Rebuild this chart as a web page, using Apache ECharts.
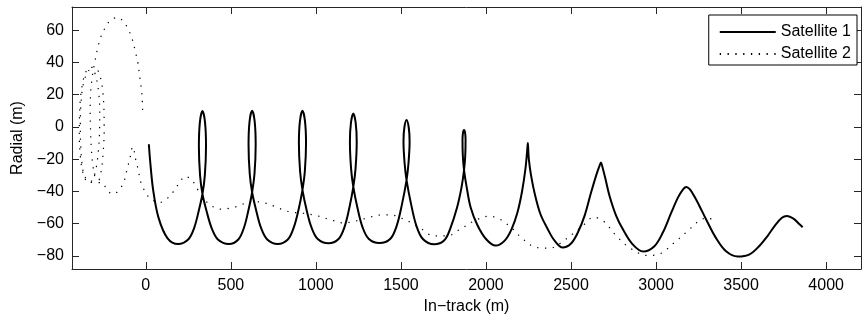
<!DOCTYPE html>
<html>
<head>
<meta charset="utf-8">
<script src="https://cdn.jsdelivr.net/npm/echarts@6/dist/echarts.min.js"></script>
<style>
html,body{margin:0;padding:0;background:#fff;}
#chart{width:865px;height:322px;}
</style>
</head>
<body>
<div id="chart"></div>
<script>
// ---- data ----
const seriesNames = ['Satellite 1', 'Satellite 2'];
const xTicks = [0, 500, 1000, 1500, 2000, 2500, 3000, 3500, 4000];
const yTicks = [-80, -60, -40, -20, 0, 20, 40, 60];

const sat1X = [18,25,43,75,128,190,249,284,311,333,347,354,348,333,318,312,319,333,357,387,424,488,544,577,603,625,639,646,640,625,610,604,611,625,649,677,714,775,835,870,898,921,935,942,936,921,906,900,907,921,945,974,1011,1073,1133,1169,1197,1220,1233,1240,1234,1220,1206,1200,1207,1220,1244,1273,1310,1373,1438,1476,1506,1533,1544,1551,1546,1533,1520,1515,1522,1533,1560,1590,1629,1696,1755,1790,1830,1857,1871,1878,1880,1877,1871,1865,1862,1864,1871,1886,1910,1950,2000,2057,2110,2150,2185,2212,2232,2242,2246,2248,2252,2265,2288,2320,2359,2400,2451,2500,2540,2580,2617,2648,2668,2676,2684,2702,2727,2765,2805,2860,2925,2990,3040,3090,3130,3160,3178,3198,3225,3255,3296,3350,3410,3480,3550,3610,3653,3700,3740,3769,3810,3840,3862];
const sat1Y = [-10.7,-20.5,-39,-56.4,-69.1,-72.6,-69.8,-62.7,-52.1,-41.6,-30,-12,3,9.9,3,-12,-30,-41.6,-52.1,-62.7,-69.8,-72.6,-69.8,-62.5,-51.8,-40.5,-29,-11,3.5,10,3.5,-11,-29,-40.5,-51.8,-62.5,-69.8,-72.6,-69.8,-62.3,-51.3,-39,-27.5,-10,3.5,10,3.5,-10,-27.5,-39,-51.3,-62.3,-69.5,-72.2,-69.5,-61.8,-50,-37.2,-26,-9,2.5,8.3,2.5,-9,-26,-37.2,-50,-61.8,-69.3,-72,-69.3,-61,-48,-33,-23,-9,-0.5,4.3,-0.5,-9,-23,-33,-48,-61,-69.5,-72.8,-70.3,-63,-50,-37,-26.7,-18,-8,-3.5,-1.9,-3.5,-8,-18,-26.7,-37,-50,-61,-69.5,-73.6,-70.5,-63.5,-53,-40,-26,-15,-10,-13,-20,-30,-42,-54,-62.5,-70,-74.8,-72.3,-65.5,-55,-41,-30,-24,-22.1,-24.5,-32,-43,-55,-63.5,-72.5,-77.3,-74,-65.5,-53,-43.5,-38.5,-37.2,-38.6,-43,-49,-57.7,-68.5,-77,-80.4,-79,-73.5,-68,-61,-56.3,-55.2,-57,-60,-62.2];

const sat2X = [-19,-22,-28,-36,-47,-60,-80,-102,-128,-165,-206,-235,-260,-281,-300,-315,-324,-327,-325,-320,-310,-295,-278,-262,-250,-245,-246,-252,-265,-285,-310,-335,-355,-372,-384,-390,-391,-386,-375,-358,-338,-315,-295,-280,-272,-271,-278,-292,-312,-336,-356,-372,-382,-385,-383,-376,-365,-349,-330,-310,-285,-260,-234,-210,-191,-170,-150,-130,-112,-97,-86,-78,-70,-60,-46,-30,-10,19,45,80,127,162,202,231,270,304,340,388,437,492,545,594,633,692,761,809,859,908,1004,1104,1162,1221,1300,1378,1437,1504,1565,1614,1692,1771,1849,1927,2015,2074,2153,2212,2290,2378,2437,2515,2574,2633,2692,2770,2849,2946,3025,3103,3182,3260,3309,3350];
const sat2Y = [10.5,19,25,31,40,46,54.5,60.2,64.9,67.9,66.4,62.2,57,49.8,40.1,31,22,10,-2,-14,-25,-32,-33,-27,-15,-2,10,21,30,35.5,37,36.5,33.5,27,18,6,-6,-17,-26,-32,-34.5,-33,-27,-16,-3,10,22,30.5,35,35,31,24,13,1,-11,-22,-29,-32.5,-34,-34.5,-34.5,-34.5,-37.8,-41,-41.7,-40.5,-38,-34.5,-27,-21,-16,-12.2,-14,-20,-26,-34,-39,-43.8,-45.7,-46.9,-44.2,-40.1,-33.9,-30.6,-32.9,-38.6,-44.5,-49,-51,-50.4,-49,-46.9,-46.3,-46.9,-49.4,-51.5,-52.9,-53.3,-55,-58.1,-59.5,-58.7,-56.5,-54.6,-54.5,-56.6,-59.7,-62.8,-67.6,-67.6,-63.4,-58.5,-55.4,-56.8,-62.8,-69,-74.6,-75.2,-72.1,-65.9,-60.8,-56,-58.5,-68,-75.2,-79.7,-78.6,-72.1,-64.9,-57.7,-56.4,-60.2];

const sat1 = sat1X.map((x, i) => [x, sat1Y[i]]);
const sat2 = sat2X.map((x, i) => [x, sat2Y[i]]);

const X_MIN = -434, X_MAX = 4205, Y_MIN = -88.1, Y_MAX = 74.4;
const FONT = 'Liberation Sans, Arial, Helvetica, sans-serif';
const minus = v => String(v).replace('-', '\u2212');

const chart = echarts.init(document.getElementById('chart'), null, {renderer: 'canvas'});
const axLine = {show: true, onZero: false, lineStyle: {color: '#262626', width: 1}};
const tickStyle = {lineStyle: {color: '#262626', width: 1}};

chart.setOption({
  animation: false,
  backgroundColor: '#fff',
  grid: {left: 72, right: 4, top: 7, bottom: 53, containLabel: false},
  legend: {
    data: seriesNames,
    orient: 'vertical',
    right: 8, top: 15,
    padding: [9, 6, 3, 10],
    itemWidth: 56, itemHeight: 14, itemGap: 6,
    backgroundColor: '#fff',
    borderColor: '#000', borderWidth: 1, borderRadius: 0,
    itemStyle: {opacity: 0, borderWidth: 0},
    textStyle: {fontFamily: FONT, fontSize: 16, color: '#000'}
  },
  xAxis: [{
    type: 'value', position: 'bottom', min: X_MIN, max: X_MAX,
    name: 'In\u2212track (m)', nameLocation: 'middle', nameGap: 25,
    nameTextStyle: {fontFamily: FONT, fontSize: 16, color: '#000'},
    axisLine: axLine,
    axisTick: Object.assign({show: true, inside: true, length: 7, customValues: xTicks}, tickStyle),
    axisLabel: {show: true, customValues: xTicks, formatter: minus, margin: 9,
      fontFamily: FONT, fontSize: 16, color: '#000'},
    splitLine: {show: false}
  }, {
    type: 'value', position: 'top', min: X_MIN, max: X_MAX,
    axisLine: axLine,
    axisTick: Object.assign({show: true, inside: true, length: 7, customValues: xTicks}, tickStyle),
    axisLabel: {show: false},
    splitLine: {show: false}
  }],
  yAxis: [{
    type: 'value', position: 'left', min: Y_MIN, max: Y_MAX,
    name: 'Radial (m)', nameLocation: 'middle', nameGap: 46,
    nameTextStyle: {fontFamily: FONT, fontSize: 16, color: '#000'},
    axisLine: axLine,
    axisTick: Object.assign({show: true, inside: true, length: 7, customValues: yTicks}, tickStyle),
    axisLabel: {show: true, customValues: yTicks, formatter: minus, margin: 8,
      fontFamily: FONT, fontSize: 16, color: '#000'},
    splitLine: {show: false}
  }, {
    type: 'value', position: 'right', min: Y_MIN, max: Y_MAX,
    axisLine: axLine,
    axisTick: Object.assign({show: true, inside: true, length: 7, customValues: yTicks}, tickStyle),
    axisLabel: {show: false},
    splitLine: {show: false}
  }],
  series: [{
    name: seriesNames[0], type: 'line', data: sat1,
    xAxisIndex: 0, yAxisIndex: 0,
    symbol: 'none', showSymbol: false, smooth: 0.35,
    lineStyle: {color: '#000', width: 2, type: 'solid'},
    itemStyle: {color: '#000'}
  }, {
    name: seriesNames[1], type: 'line', data: sat2,
    xAxisIndex: 0, yAxisIndex: 0,
    symbol: 'none', showSymbol: false, smooth: 0.35,
    lineStyle: {color: '#000', width: 1.2, type: [1.3, 6.5]},
    itemStyle: {color: '#000'}
  }]
});
</script>
</body>
</html>
